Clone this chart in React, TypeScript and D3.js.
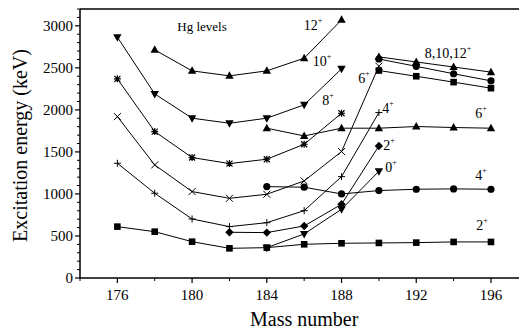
import * as d3 from "d3";

// mass numbers per band
const massA = [176, 178, 180, 182, 184, 186, 188, 190, 192, 194, 196];
const massB = [176, 178, 180, 182, 184, 186, 188, 190];
const massC = [176, 178, 180, 182, 184, 186, 188];
const massD = [178, 180, 182, 184, 186, 188];
const massE = [184, 186, 188, 190, 192, 194, 196];
const massF = [182, 184, 186, 188, 190];
const massG = [184, 186, 188, 190];
const massH = [190, 192, 194, 196];

// ground band
const gs2 = [611, 551, 432, 353, 361, 401, 413, 417, 421, 429, 429];
const gs4 = [1365, 1008, 702, 611, 658, 801, 1206, 1968];
const gs6 = [1920, 1345, 1028, 948, 996, 1155, 1504, 2520];
const gs8 = [2369, 1742, 1433, 1361, 1413, 1591, 1960];
const gs10 = [2865, 2190, 1901, 1841, 1901, 2060, 2488];
const gs12 = [2714, 2464, 2405, 2464, 2615, 3071];
// other bands
const b6 = [1782, 1690, 1782, 1782, 1802, 1790, 1782];
const b4 = [1087, 1080, 1000, 1040, 1056, 1060, 1056];
const b2 = [544, 540, 619, 877, 1571];
const b0 = [361, 524, 818, 1270];
const h8 = [2468, 2400, 2330, 2258];
const h10 = [2605, 2518, 2430, 2345];
const h12 = [2630, 2570, 2510, 2449];

const yTicks = [0, 500, 1000, 1500, 2000, 2500, 3000];
const xTicks = [176, 180, 184, 188, 192, 196];

type Mk = "square" | "plus" | "cross" | "star" | "tridown" | "triup" | "circle" | "diamond";

const series: { mass: number[]; vals: number[]; mk: Mk }[] = [
  { mass: massA, vals: gs2, mk: "square" },
  { mass: massB, vals: gs4, mk: "plus" },
  { mass: massB, vals: gs6, mk: "cross" },
  { mass: massC, vals: gs8, mk: "star" },
  { mass: massC, vals: gs10, mk: "tridown" },
  { mass: massD, vals: gs12, mk: "triup" },
  { mass: massE, vals: b6, mk: "triup" },
  { mass: massE, vals: b4, mk: "circle" },
  { mass: massF, vals: b2, mk: "diamond" },
  { mass: massG, vals: b0, mk: "tridown" },
  { mass: massH, vals: h8, mk: "square" },
  { mass: massH, vals: h10, mk: "circle" },
  { mass: massH, vals: h12, mk: "triup" },
];

const labels = [
  { t: "12", x: 313, y: 30 },
  { t: "10", x: 322, y: 66 },
  { t: "8", x: 328, y: 105 },
  { t: "6", x: 364, y: 83 },
  { t: "4", x: 388, y: 113 },
  { t: "2", x: 389, y: 150 },
  { t: "0", x: 391, y: 172 },
  { t: "8,10,12", x: 448, y: 58 },
  { t: "6", x: 481, y: 118 },
  { t: "4", x: 481, y: 180 },
  { t: "2", x: 482, y: 230 },
];

const W = 519, H = 329;
const left = 80, right = 519, top = 9, bottom = 278;
const font = "Liberation Serif, DejaVu Serif, serif";

const Marker = ({ x, y, mk }: { x: number; y: number; mk: Mk }) => {
  const s = 3.3;
  switch (mk) {
    case "square":
      return <rect x={x - s} y={y - s} width={2 * s} height={2 * s} fill="#000" />;
    case "circle":
      return <circle cx={x} cy={y} r={3.6} fill="#000" />;
    case "diamond":
      return <path d={`M${x},${y - 4.2}L${x + 4.2},${y}L${x},${y + 4.2}L${x - 4.2},${y}Z`} fill="#000" />;
    case "triup":
      return <path d={`M${x},${y - 4.5}L${x + 4.2},${y + 3}L${x - 4.2},${y + 3}Z`} fill="#000" />;
    case "tridown":
      return <path d={`M${x},${y + 4.5}L${x + 4.2},${y - 3}L${x - 4.2},${y - 3}Z`} fill="#000" />;
    case "plus":
      return <path d={`M${x - 3.5},${y}H${x + 3.5}M${x},${y - 3.5}V${y + 3.5}`} stroke="#000" strokeWidth={1} />;
    case "cross":
      return <path d={`M${x - 3.5},${y - 3.5}L${x + 3.5},${y + 3.5}M${x - 3.5},${y + 3.5}L${x + 3.5},${y - 3.5}`} stroke="#000" strokeWidth={1} />;
    case "star":
      return (
        <path
          d={`M${x - 3},${y - 3}L${x + 3},${y + 3}M${x - 3},${y + 3}L${x + 3},${y - 3}M${x - 3.5},${y}H${x + 3.5}M${x},${y - 3.5}V${y + 3.5}`}
          stroke="#000"
          strokeWidth={1.2}
        />
      );
  }
};

export default function App() {
  const x = d3.scaleLinear().domain([174, 197.5]).range([left, right]);
  const y = d3.scaleLinear().domain([0, 3200]).range([bottom, top]);
  const line = d3.line<[number, number]>().x((d) => x(d[0])).y((d) => y(d[1]));
  const yMinor = d3.range(0, 3201, 100).filter((v) => v % 500 !== 0);
  const xMinor = d3.range(174, 198, 2).filter((v) => (v - 176) % 4 !== 0);

  return (
    <svg width={W} height={H} style={{ position: "absolute", left: 0, top: 0, background: "#fff", fontFamily: font }}>
      {series.map((s, i) => (
        <path key={i} d={line(s.mass.map((m, j) => [m, s.vals[j]]))!} fill="none" stroke="#000" strokeWidth={1} />
      ))}
      {series.map((s, i) =>
        s.mass.map((m, j) => <Marker key={`${i}-${j}`} x={x(m)} y={y(s.vals[j])} mk={s.mk} />)
      )}

      {/* frame */}
      <line x1={left} x2={right} y1={top} y2={top} stroke="#000" strokeWidth={1.5} />
      <line x1={left} x2={right} y1={bottom} y2={bottom} stroke="#000" strokeWidth={1.5} />
      <line x1={left} x2={left} y1={top} y2={bottom} stroke="#000" strokeWidth={1.5} />

      {yTicks.map((v) => (
        <g key={v}>
          <line x1={left - 5} x2={left} y1={y(v)} y2={y(v)} stroke="#000" strokeWidth={1.2} />
          <text x={left - 7} y={y(v)} dy="0.35em" textAnchor="end" fontSize={15}>
            {v}
          </text>
        </g>
      ))}
      {yMinor.map((v) => (
        <line key={v} x1={left - 3} x2={left} y1={y(v)} y2={y(v)} stroke="#000" strokeWidth={1} />
      ))}
      {xTicks.map((v) => (
        <g key={v}>
          <line x1={x(v)} x2={x(v)} y1={bottom} y2={bottom + 5} stroke="#000" strokeWidth={1.2} />
          <text x={x(v)} y={bottom + 22} textAnchor="middle" fontSize={15}>
            {v}
          </text>
        </g>
      ))}
      {xMinor.map((v) => (
        <line key={v} x1={x(v)} x2={x(v)} y1={bottom} y2={bottom + 3} stroke="#000" strokeWidth={1} />
      ))}

      <text x={x(186)} y={326} textAnchor="middle" fontSize={20}>
        Mass number
      </text>
      <text transform={`translate(27,${(top + bottom) / 2 + 2}) rotate(-90)`} textAnchor="middle" fontSize={20}>
        Excitation energy (keV)
      </text>
      <text x={202} y={31} textAnchor="middle" fontSize={13}>
        Hg levels
      </text>

      {labels.map((l, i) => (
        <text key={i} x={l.x} y={l.y} textAnchor="middle" fontSize={14}>
          {l.t}
          <tspan fontSize={8} dy={-7}>+</tspan>
        </text>
      ))}
    </svg>
  );
}
